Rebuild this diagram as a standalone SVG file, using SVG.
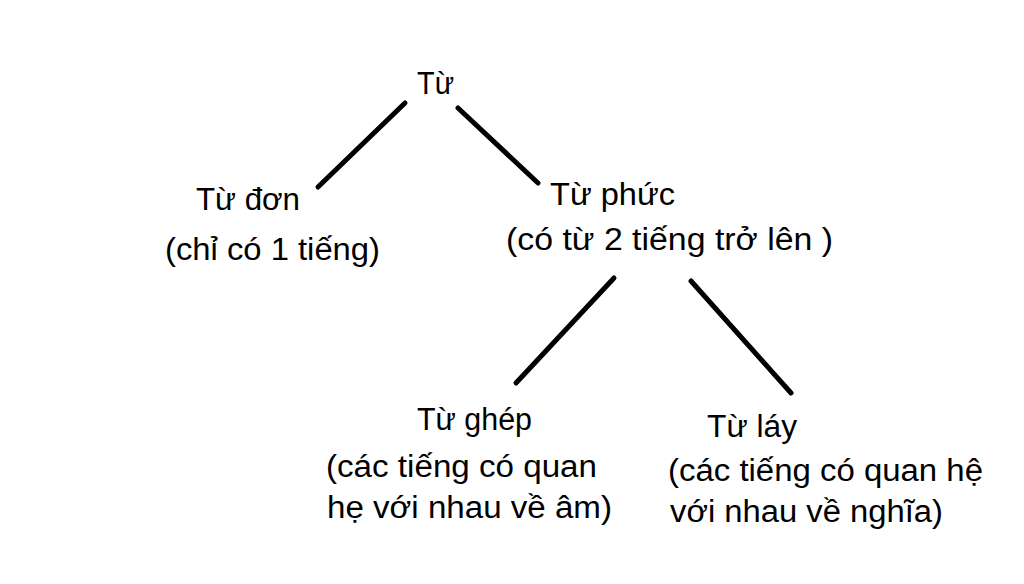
<svg xmlns="http://www.w3.org/2000/svg" width="1024" height="584" viewBox="0 0 1024 584">
<style>
text{font-family:"Liberation Sans","DejaVu Sans",sans-serif;font-size:31px;fill:#000}
.c line{stroke:#000;stroke-width:5;stroke-linecap:round}
</style>
<rect width="1024" height="584" fill="#fff"/>
<g class="c" id="connectors">
<line x1="405" y1="103" x2="318" y2="187"/>
<line x1="458" y1="108" x2="538" y2="183"/>
<line x1="614" y1="278" x2="516" y2="383"/>
<line x1="691" y1="281" x2="791" y2="393"/>
</g>
<g id="tu"><text x="417" y="94" textLength="37" lengthAdjust="spacingAndGlyphs">Từ</text></g>
<g id="tu-don">
<text x="196" y="210" textLength="104" lengthAdjust="spacingAndGlyphs">Từ đơn</text>
<text x="165" y="260" textLength="215" lengthAdjust="spacingAndGlyphs">(chỉ có 1 tiếng)</text>
</g>
<g id="tu-phuc">
<text x="550" y="205" textLength="125" lengthAdjust="spacingAndGlyphs">Từ phức</text>
<text x="506" y="250" textLength="327" lengthAdjust="spacingAndGlyphs">(có từ 2 tiếng trở lên )</text>
</g>
<g id="tu-ghep">
<text x="417" y="430" textLength="115" lengthAdjust="spacingAndGlyphs">Từ ghép</text>
<text x="326" y="477" textLength="271" lengthAdjust="spacingAndGlyphs">(các tiếng có quan</text>
<text x="327" y="518" textLength="285" lengthAdjust="spacingAndGlyphs">hẹ với nhau về âm)</text>
</g>
<g id="tu-lay">
<text x="707" y="437" textLength="90" lengthAdjust="spacingAndGlyphs">Từ láy</text>
<text x="668" y="481" textLength="315" lengthAdjust="spacingAndGlyphs">(các tiếng có quan hệ</text>
<text x="670" y="522" textLength="273" lengthAdjust="spacingAndGlyphs">với nhau về nghĩa)</text>
</g>
</svg>
